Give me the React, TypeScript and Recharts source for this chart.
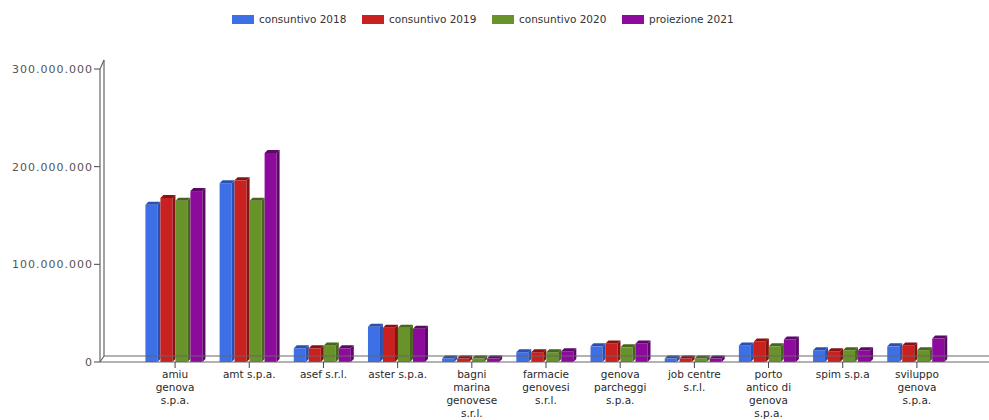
import React from "react";
import { BarChart, Bar, XAxis, YAxis } from "recharts";

// companies (x categories)
const companies = [
  "amiu genova s.p.a.",
  "amt s.p.a.",
  "asef s.r.l.",
  "aster s.p.a.",
  "bagni marina genovese s.r.l.",
  "farmacie genovesi s.r.l.",
  "genova parcheggi s.p.a.",
  "job centre s.r.l.",
  "porto antico di genova s.p.a.",
  "spim s.p.a",
  "sviluppo genova s.p.a.",
];

// values in euro
const cons2018 = [161e6, 183e6, 14e6, 36e6, 3.5e6, 10e6, 16e6, 3.5e6, 17e6, 12e6, 16e6];
const cons2019 = [168e6, 186e6, 14e6, 35e6, 3.5e6, 10e6, 19e6, 3.5e6, 21e6, 11e6, 17e6];
const cons2020 = [165e6, 165e6, 17e6, 35e6, 3.5e6, 10e6, 15e6, 3.5e6, 16e6, 12e6, 12e6];
const proj2021 = [175e6, 214e6, 14e6, 34e6, 3.5e6, 11e6, 19e6, 3.5e6, 23e6, 12e6, 24e6];

const yTicks = [0, 100e6, 200e6, 300e6];

const series = [
  { key: "c2018", name: "consuntivo 2018", color: "#3d6fe6", dark: "#2a4fb0" },
  { key: "c2019", name: "consuntivo 2019", color: "#c92020", dark: "#8a1212" },
  { key: "c2020", name: "consuntivo 2020", color: "#68932a", dark: "#46661a" },
  { key: "p2021", name: "proiezione 2021", color: "#8c0a9c", dark: "#5e066a" },
];

const data = companies.map((name, i) => ({
  name,
  c2018: cons2018[i],
  c2019: cons2019[i],
  c2020: cons2020[i],
  p2021: proj2021[i],
}));

const W = 989;
const H = 420;
const M = { top: 69, right: 0, left: 0, bottom: 0 };
const Y_W = 100;
const X_H = 58;
const DEPTH = 4;
const FONT = "'DejaVu Sans', Verdana, sans-serif";
const LABEL_SIZE = 10.5;
const LABEL_W = 62;

function dots(v: number) {
  return String(Math.round(v)).replace(/\B(?=(\d{3})+(?!\d))/g, ".");
}

let ctx: CanvasRenderingContext2D | null = null;
function measure(s: string) {
  if (!ctx) {
    ctx = document.createElement("canvas").getContext("2d");
    if (ctx) ctx.font = `${LABEL_SIZE}px 'DejaVu Sans'`;
  }
  return ctx ? ctx.measureText(s).width : s.length * 6;
}

function wrap(label: string) {
  const lines: string[] = [];
  let cur = "";
  for (const w of label.split(" ")) {
    const next = cur ? cur + " " + w : w;
    if (cur && measure(next) > LABEL_W) {
      lines.push(cur);
      cur = w;
    } else cur = next;
  }
  if (cur) lines.push(cur);
  return lines;
}

function bar3d(color: string, dark: string) {
  return (p: any) => {
    const { x, y, width, height } = p;
    if (!height || height <= 0) return <g />;
    const d = 3;
    const w = width - d;
    const b = y + height;
    return (
      <g>
        <rect x={x} y={y} width={w} height={height} fill={color} />
        <polygon points={`${x + w},${y} ${x + width},${y - d} ${x + width},${b - d} ${x + w},${b}`} fill={dark} />
        <polygon points={`${x},${y} ${x + d},${y - d} ${x + width},${y - d} ${x + w},${y}`} fill={dark} />
      </g>
    );
  };
}

function XTick({ x, y, payload }: any) {
  const lines = wrap(String(payload.value));
  return (
    <text x={x} y={y} textAnchor="middle" fontSize={LABEL_SIZE} fontFamily={FONT} fill="#2a2a2a">
      {lines.map((l, i) => (
        <tspan key={i} x={x} dy={i === 0 ? "0.85em" : 13}>
          {l}
        </tspan>
      ))}
    </text>
  );
}

function Frame() {
  const left = M.left + Y_W;
  const top = M.top;
  const bottom = H - M.bottom - X_H;
  const stroke = "#666";
  return (
    <svg width={W} height={H} style={{ position: "absolute", left: 0, top: 0, pointerEvents: "none" }}>
      <line x1={left} y1={top} x2={left} y2={bottom} stroke={stroke} strokeWidth={1.2} />
      <line x1={left + DEPTH} y1={top - 9} x2={left + DEPTH} y2={bottom - 6} stroke={stroke} strokeWidth={1.2} />
      <line x1={left} y1={top} x2={left + DEPTH} y2={top - 9} stroke={stroke} strokeWidth={1.2} />
      <line x1={left + DEPTH} y1={bottom - 6} x2={W} y2={bottom - 6} stroke={stroke} strokeWidth={1.2} />
      <line x1={left} y1={bottom} x2={left + DEPTH} y2={bottom - 6} stroke={stroke} strokeWidth={1.2} />
    </svg>
  );
}

export default function App() {
  return (
    <div style={{ position: "fixed", left: 0, top: 0, width: W, height: H, background: "#fff", fontFamily: FONT }}>
      <div style={{ position: "absolute", left: 232, top: 13, display: "flex" }}>
        {series.map((s) => (
          <div key={s.key} style={{ width: 130, display: "flex", alignItems: "center", fontSize: 10.5, color: "#333" }}>
            <span style={{ width: 22, height: 9, background: s.color, marginRight: 5, display: "inline-block" }} />
            {s.name}
          </div>
        ))}
      </div>
      <BarChart
        width={W}
        height={H}
        data={data}
        margin={M}
        barCategoryGap="10%"
        barGap={0}
        style={{ overflow: "visible" }}
      >
        <XAxis
          dataKey="name"
          interval={0}
          height={X_H}
          padding={{ left: 38, right: 35 }}
          tickSize={6}
          tickMargin={1}
          tickLine={{ stroke: "#444" }}
          axisLine={{ stroke: "#666", strokeWidth: 1.2 }}
          tick={<XTick />}
        />
        <YAxis
          width={Y_W}
          domain={[0, 300e6]}
          ticks={yTicks}
          tickFormatter={dots}
          tickSize={6}
          tickMargin={1}
          tickLine={{ stroke: "#444" }}
          axisLine={false}
          tick={{ fontSize: 11, fill: "#555", fontFamily: FONT, letterSpacing: 1 }}
        />
        {series.map((s) => (
          <Bar
            key={s.key}
            dataKey={s.key}
            name={s.name}
            fill={s.color}
            shape={bar3d(s.color, s.dark)}
            isAnimationActive={false}
          />
        ))}
      </BarChart>
      <Frame />
    </div>
  );
}
